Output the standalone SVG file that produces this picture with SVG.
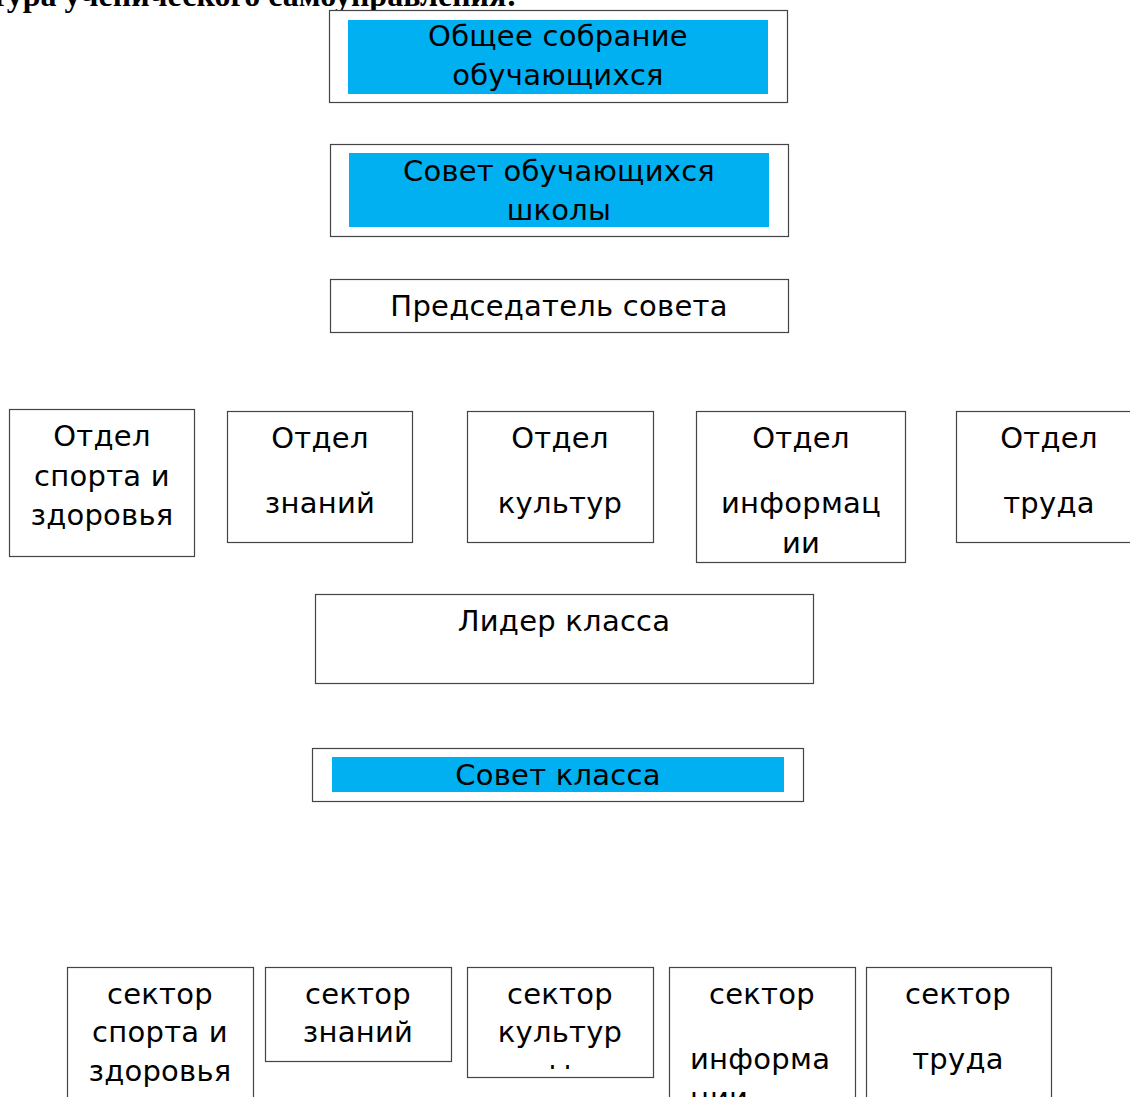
<svg xmlns="http://www.w3.org/2000/svg" width="1130" height="1097" viewBox="0 0 1130 1097">
<style>
.box{fill:#fff;stroke:#444;stroke-width:1.2}
.blue{fill:#00B0F0}
.t{font-family:"DejaVu Sans",sans-serif;font-size:29px;letter-spacing:0.25px;fill:#000;text-anchor:middle}
.tl{font-family:"DejaVu Sans",sans-serif;font-size:29px;letter-spacing:0.25px;fill:#000}
.title{font-family:"Liberation Serif",serif;font-weight:bold;font-size:32px;fill:#000;text-anchor:end}
</style>
<defs>
<clipPath id="c3"><rect x="467" y="967" width="186" height="102"/></clipPath>
</defs>
<rect width="1130" height="1097" fill="#fff"/>
<text class="title" x="517" y="6">Структура ученического самоуправления:</text>
<g id="connectors"></g>
<g id="n1"><rect class="box" x="329.5" y="10.5" width="458" height="92"/><rect class="blue" x="348" y="20" width="420" height="74"/><text class="t" x="558" y="46">Общее собрание</text><text class="t" x="558" y="85">обучающихся</text></g>
<g id="n2"><rect class="box" x="330.5" y="144.5" width="458" height="92"/><rect class="blue" x="349" y="153" width="420" height="74"/><text class="t" x="559" y="181">Совет обучающихся</text><text class="t" x="559" y="220">школы</text></g>
<g id="n3"><rect class="box" x="330.5" y="279.5" width="458" height="53"/><text class="t" x="559" y="316">Председатель совета</text></g>
<g id="d1"><rect class="box" x="9.5" y="409.5" width="185" height="147"/><text class="t" x="102" y="446">Отдел</text><text class="t" x="102" y="486">спорта и</text><text class="t" x="102" y="525">здоровья</text></g>
<g id="d2"><rect class="box" x="227.5" y="411.5" width="185" height="131"/><text class="t" x="320" y="448">Отдел</text><text class="t" x="320" y="513">знаний</text></g>
<g id="d3"><rect class="box" x="467.5" y="411.5" width="186" height="131"/><text class="t" x="560" y="448">Отдел</text><text class="t" x="560" y="513">культур</text></g>
<g id="d4"><rect class="box" x="696.5" y="411.5" width="209" height="151"/><text class="t" x="801" y="448">Отдел</text><text class="t" x="801" y="513">информац</text><text class="t" x="801" y="553">ии</text></g>
<g id="d5"><rect class="box" x="956.5" y="411.5" width="185" height="131"/><text class="t" x="1049" y="448">Отдел</text><text class="t" x="1049" y="513">труда</text></g>
<g id="n4"><rect class="box" x="315.5" y="594.5" width="498" height="89"/><text class="t" x="564" y="631">Лидер класса</text></g>
<g id="n5"><rect class="box" x="312.5" y="748.5" width="491" height="53"/><rect class="blue" x="332" y="757" width="452" height="35"/><text class="t" x="558" y="785">Совет класса</text></g>
<g id="s1"><rect class="box" x="67.5" y="967.5" width="186" height="140"/><text class="t" x="160" y="1004">сектор</text><text class="t" x="160" y="1042">спорта и</text><text class="t" x="160" y="1081">здоровья</text></g>
<g id="s2"><rect class="box" x="265.5" y="967.5" width="186" height="94"/><text class="t" x="358" y="1004">сектор</text><text class="t" x="358" y="1042">знаний</text></g>
<g id="s3"><rect class="box" x="467.5" y="967.5" width="186" height="110"/><text class="t" x="560" y="1004">сектор</text><text class="t" x="560" y="1042">культур</text><text class="t" x="560" y="1081" clip-path="url(#c3)">ы</text></g>
<g id="s4"><rect class="box" x="669.5" y="967.5" width="186" height="140"/><text class="t" x="762" y="1004">сектор</text><text class="tl" x="690" y="1069">информа</text><text class="tl" x="690" y="1108">ции</text></g>
<g id="s5"><rect class="box" x="866.5" y="967.5" width="185" height="140"/><text class="t" x="958" y="1004">сектор</text><text class="t" x="958" y="1069">труда</text></g>
</svg>
